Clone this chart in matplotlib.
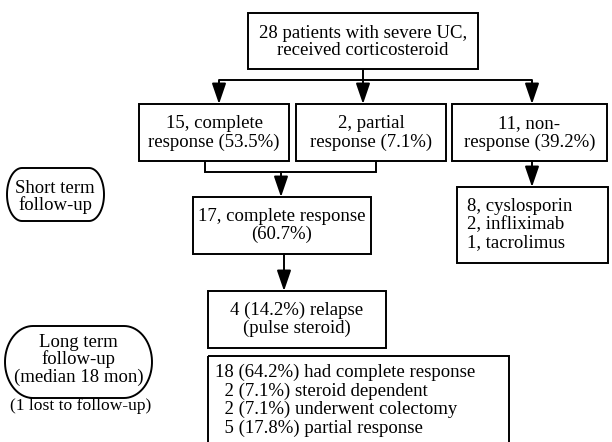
import numpy as np
import matplotlib.pyplot as plt
from matplotlib.patches import Rectangle, PathPatch
from matplotlib.path import Path

plt.rcParams['font.family'] = ['Liberation Serif', 'DejaVu Serif']

# texts of the flowchart
top_text = ['28 patients with severe UC,', 'received corticosteroid']
complete_text = ['15, complete', 'response (53.5%)']
partial_text = ['2, partial', 'response (7.1%)']
nonresp_text = ['11, non-', 'response (39.2%)']
merged_text = ['17, complete response', '(60.7%)']
rescue_text = ['8, cyslosporin', '2, infliximab', '1, tacrolimus']
relapse_text = ['4 (14.2%) relapse', '(pulse steroid)']
longterm_text = ['18 (64.2%) had complete response', '  2 (7.1%) steroid dependent',
                 '  2 (7.1%) underwent colectomy', '  5 (17.8%) partial response']
short_label = ['Short term', 'follow-up']
long_label = ['Long term', 'follow-up', '(median 18 mon)']
lost_label = '(1 lost to follow-up)'

FS = 13.5
LW = 1.4

fig = plt.figure(figsize=(6.12, 4.42), dpi=100)
ax = fig.add_axes([0, 0, 1, 1])
ax.set_xlim(0, 612)
ax.set_ylim(442, 0)
ax.axis('off')


def box(x0, y0, x1, y1):
    ax.add_patch(Rectangle((x0, y0), x1 - x0, y1 - y0, fill=False, lw=LW, ec='black'))


def stadium(x0, y0, x1, y1, rx):
    # rectangle with half-ellipse ends
    ry = (y1 - y0) / 2
    cy = (y0 + y1) / 2
    t_r = np.linspace(-np.pi / 2, np.pi / 2, 40)
    t_l = np.linspace(np.pi / 2, 3 * np.pi / 2, 40)
    right = np.column_stack([x1 - rx + rx * np.cos(t_r), cy + ry * np.sin(t_r)])
    left = np.column_stack([x0 + rx + rx * np.cos(t_l), cy + ry * np.sin(t_l)])
    verts = np.vstack([right, left, right[:1]])
    ax.add_patch(PathPatch(Path(verts, closed=True), fill=False, lw=LW, ec='black'))


def lines(x, baselines, texts, ha='center'):
    for yb, t in zip(baselines, texts):
        ax.text(x, yb, t, fontsize=FS, ha=ha, va='baseline')


def arrow(x, y0, y1):
    ax.annotate('', xy=(x, y1), xytext=(x, y0),
                arrowprops=dict(arrowstyle='-|>,head_length=0.7,head_width=0.24',
                                lw=LW, color='black', shrinkA=0, shrinkB=0,
                                mutation_scale=18))


def seg(xs, ys):
    ax.plot(xs, ys, color='black', lw=LW, solid_capstyle='butt', solid_joinstyle='miter')


# boxes
box(248, 13, 478, 69)
lines(363, [38, 55], top_text)

box(139, 104, 289, 161)
lines(214, [128, 147], complete_text)
box(296, 104, 446, 161)
lines(371, [128, 147], partial_text)
box(452, 104, 607, 161)
lines(529.5, [128, 147], nonresp_text)

box(193, 197, 371, 254)
lines(282, [221, 239], merged_text)

box(457, 187, 608, 263)
lines(467, [211, 229, 247], rescue_text, ha='left')

box(208, 291, 386, 348)
lines(297, [315, 333], relapse_text)

box(208, 356, 509, 446)
lines(215, [377, 396, 414, 433], longterm_text, ha='left')

# connectors
seg([363, 363], [69, 80])
seg([219, 532], [80, 80])
arrow(219, 80, 104)
arrow(363, 80, 104)
arrow(532, 80, 104)

seg([205, 205, 376, 376], [161, 172, 172, 161])
arrow(281, 172, 197)
arrow(532, 161, 187)
arrow(284, 254, 291)

# rounded side labels
stadium(7, 168, 104, 221, 15)
lines(55, [193, 210], short_label)
stadium(5, 326, 152, 398, 28)
lines(78.5, [347, 364, 382], long_label)
ax.text(81, 410, lost_label, fontsize=12.6, ha='center', va='baseline')

fig.savefig('out.png', dpi=100)
